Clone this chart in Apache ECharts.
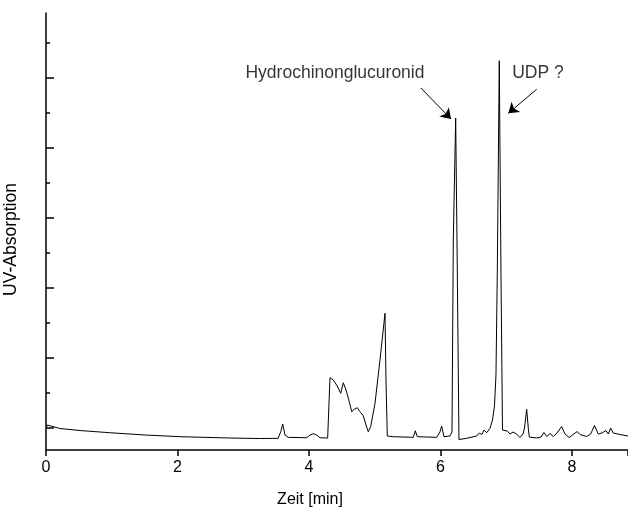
<!DOCTYPE html>
<html>
<head>
<meta charset="utf-8">
<script src="https://cdn.jsdelivr.net/npm/echarts@6/dist/echarts.min.js"></script>
<style>
html,body{margin:0;padding:0;background:#fff;}
#chart{width:628px;height:515px;}
</style>
</head>
<body>
<div id="chart"></div>
<script>
// Retention time (min)
var times = [0.01,0.02,0.21,0.52,0.97,1.51,2.04,2.80,3.25,3.53,3.57,3.60,3.635,3.685,3.965,4.015,4.065,4.117,4.167,4.284,
  4.319,4.370,4.430,4.482,4.522,4.563,4.613,4.650,4.689,4.735,4.776,4.826,4.867,4.902,4.938,5.004,5.080,5.156,5.171,5.191,
  5.282,5.586,5.617,5.647,5.942,5.992,6.018,6.053,6.144,6.175,6.195,6.231,6.256,6.281,6.398,6.449,6.551,6.590,6.631,6.662,
  6.703,6.753,6.791,6.821,6.844,6.864,6.894,6.920,6.943,6.955,7.016,7.057,7.103,7.159,7.209,7.255,7.278,7.311,7.338,7.351,
  7.463,7.529,7.574,7.615,7.665,7.716,7.772,7.843,7.894,7.959,8.015,8.081,8.122,8.224,8.284,8.342,8.400,8.456,8.517,8.552,
  8.589,8.628,8.730,8.852];
// UV absorption (arbitrary units)
var absorption = [0.0014,0.0043,-0.0007,-0.0036,-0.0067,-0.0100,-0.0124,-0.0143,-0.0150,-0.0147,-0.0053,0.0057,-0.0100,-0.0133,-0.0139,-0.0100,-0.0081,-0.0100,-0.0139,-0.0143,
  0.0719,0.0686,0.0600,0.0496,0.0647,0.0543,0.0376,0.0233,0.0267,0.0290,0.0233,0.0176,0.0043,-0.0053,0.0019,0.0353,0.0971,0.1639,0.0686,-0.0114,
  -0.0124,-0.0133,-0.0039,-0.0124,-0.0133,-0.0057,0.0029,-0.0124,-0.0114,-0.0057,0.2686,0.4429,0.2214,-0.0164,-0.0147,-0.0136,-0.0114,-0.0071,-0.0093,-0.0029,
  -0.0067,-0.0004,0.0114,0.0314,0.0757,0.2214,0.5247,0.2214,-0.0029,-0.0029,-0.0043,-0.0086,-0.0057,-0.0086,-0.0136,-0.0086,0.0000,0.0267,-0.0029,-0.0129,
  -0.0143,-0.0129,-0.0064,-0.0121,-0.0079,-0.0121,-0.0071,0.0021,-0.0086,-0.0136,-0.0093,-0.0050,-0.0093,-0.0121,-0.0086,0.0036,-0.0086,-0.0071,-0.0036,-0.0086,
  0.0000,-0.0071,-0.0093,-0.0114];

var xTicks = [0, 2, 4, 6, 8];
var yMajorTicks = [0, 0.1, 0.2, 0.3, 0.4, 0.5];
var yMinorTicks = [0.05, 0.15, 0.25, 0.35, 0.45, 0.55];

var annotationTexts = ['Hydrochinonglucuronid', 'UDP ?'];
var annotationTextPos = [[4.395, 0.5071], [7.483, 0.5071]];
var arrowStarts = [[5.703, 0.4857], [7.463, 0.4839]];
var arrowEnds = [[6.160, 0.4414], [7.031, 0.4496]];

var FONT = 'Liberation Sans, Arial, sans-serif';
var chart = echarts.init(document.getElementById('chart'), null, {renderer: 'canvas'});

var seriesData = times.map(function (t, i) { return [t, absorption[i]]; });
var labelData = annotationTexts.map(function (s, i) { return {value: annotationTextPos[i], name: s}; });
var arrowData = arrowStarts.map(function (s, i) {
  return [{coord: s}, {coord: arrowEnds[i]}];
});

chart.setOption({
  animation: false,
  backgroundColor: '#fff',
  grid: {left: 46, right: 0, top: 13, bottom: 65, containLabel: false, outerBoundsMode: 'none'},
  xAxis: {
    type: 'value', min: 0, max: 8.852, interval: 2,
    name: 'Zeit [min]', nameLocation: 'middle', nameGap: 42,
    nameTextStyle: {fontFamily: FONT, fontSize: 16, color: '#000', padding: [0, 54, 0, 0]},
    axisLine: {show: true, onZero: false, lineStyle: {color: '#000', width: 1.5}},
    axisTick: {show: true, inside: false, length: 6, lineStyle: {color: '#000', width: 1.5}},
    axisLabel: {show: true, margin: 10, fontFamily: FONT, fontSize: 16, color: '#000',
      formatter: function (v) { return xTicks.indexOf(v) >= 0 ? String(v) : ''; }},
    splitLine: {show: false}
  },
  yAxis: [{
    type: 'value', min: -0.0314, max: 0.5929,
    name: 'UV-Absorption', nameLocation: 'middle', nameGap: 26, nameRotate: 90,
    nameTextStyle: {fontFamily: FONT, fontSize: 17.5, color: '#000', padding: [0, 16, 0, 0]},
    axisLine: {show: true, onZero: false, lineStyle: {color: '#000', width: 1.5}},
    axisTick: {show: true, inside: true, length: 8, customValues: yMajorTicks, lineStyle: {color: '#000', width: 1.5}},
    axisLabel: {show: false},
    splitLine: {show: false}
  }, {
    type: 'value', min: -0.0314, max: 0.5929, position: 'left',
    axisLine: {show: false, onZero: false},
    axisTick: {show: true, inside: true, length: 4, customValues: yMinorTicks, lineStyle: {color: '#000', width: 1.5}},
    axisLabel: {show: false},
    splitLine: {show: false}
  }],
  series: [{
    type: 'line',
    data: seriesData,
    showSymbol: false,
    symbol: 'none',
    lineStyle: {color: '#000', width: 1},
    markLine: {
      silent: true,
      symbol: ['none', 'arrow'],
      symbolSize: 10,
      label: {show: false},
      lineStyle: {color: '#000', width: 1, type: 'solid'},
      data: arrowData
    }
  }, {
    type: 'scatter',
    data: labelData,
    symbolSize: 0,
    label: {show: true, position: 'inside', formatter: function (p) { return p.name; },
      fontFamily: FONT, fontSize: 17.5, color: '#000'}
  }]
});
</script>
</body>
</html>
